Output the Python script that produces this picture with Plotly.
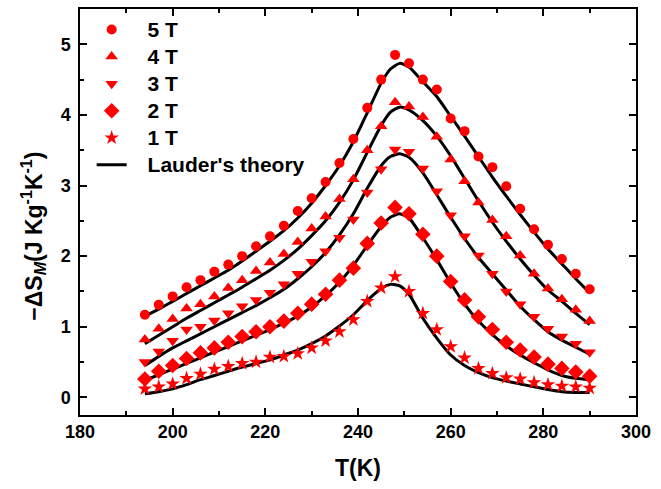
import plotly.graph_objects as go

# ---------------- data ----------------
T_data = [194, 197, 200, 203, 206, 209, 212, 215, 218, 221, 224, 227, 230, 233, 236, 239, 242,
          245, 248, 251, 254, 257, 260, 263, 266, 269, 272, 275, 278, 281, 284, 287, 290]

ds_5T = [1.17, 1.31, 1.43, 1.56, 1.66, 1.78, 1.88, 2.00, 2.14, 2.28, 2.43, 2.64, 2.82, 3.05, 3.32, 3.66, 4.10,
         4.50, 4.85, 4.73, 4.50, 4.36, 3.95, 3.77, 3.41, 3.26, 2.99, 2.67, 2.38, 2.16, 1.96, 1.75, 1.53]
ds_4T = [0.82, 0.97, 1.11, 1.26, 1.32, 1.43, 1.55, 1.66, 1.79, 1.91, 2.03, 2.20, 2.39, 2.56, 2.81, 3.09, 3.50,
         3.84, 4.18, 4.12, 3.97, 3.69, 3.37, 3.06, 2.76, 2.51, 2.28, 2.01, 1.75, 1.54, 1.39, 1.24, 1.08]
ds_3T = [0.50, 0.65, 0.80, 0.96, 1.00, 1.09, 1.19, 1.29, 1.38, 1.48, 1.60, 1.75, 1.92, 2.07, 2.26, 2.52, 2.90,
         3.23, 3.51, 3.48, 3.24, 2.92, 2.58, 2.28, 2.01, 1.75, 1.50, 1.32, 1.14, 0.97, 0.86, 0.76, 0.64]
ds_2T = [0.26, 0.37, 0.45, 0.55, 0.63, 0.70, 0.78, 0.86, 0.93, 1.00, 1.08, 1.19, 1.32, 1.46, 1.66, 1.83, 2.18,
         2.47, 2.69, 2.60, 2.31, 2.00, 1.64, 1.38, 1.14, 0.96, 0.78, 0.67, 0.57, 0.47, 0.41, 0.36, 0.30]
ds_1T = [0.12, 0.15, 0.19, 0.27, 0.33, 0.40, 0.44, 0.48, 0.50, 0.57, 0.58, 0.62, 0.70, 0.80, 0.93, 1.10, 1.36,
         1.55, 1.71, 1.50, 1.19, 0.96, 0.72, 0.56, 0.41, 0.34, 0.28, 0.26, 0.21, 0.18, 0.16, 0.15, 0.13]

# Lauder's theory curves
T_fit = [194, 197, 200, 203, 206, 209, 212, 215, 218, 221, 224, 227, 230, 233, 236, 239, 242,
         245, 247, 249, 251, 254, 257, 260, 263, 266, 269, 272, 275, 278, 281, 284, 287, 290]
fit_5T = [1.15, 1.25, 1.36, 1.47, 1.58, 1.69, 1.80, 1.93, 2.07, 2.21, 2.36, 2.54, 2.75, 3.00, 3.28, 3.62, 4.03,
          4.45, 4.65, 4.73, 4.68, 4.47, 4.26, 3.98, 3.70, 3.41, 3.12, 2.85, 2.59, 2.34, 2.10, 1.89, 1.68, 1.48]
fit_4T = [0.76, 0.88, 1.00, 1.12, 1.23, 1.34, 1.45, 1.56, 1.68, 1.80, 1.94, 2.10, 2.29, 2.50, 2.76, 3.08, 3.47,
          3.85, 4.04, 4.11, 4.07, 3.92, 3.70, 3.42, 3.10, 2.78, 2.48, 2.21, 1.96, 1.73, 1.52, 1.36, 1.19, 1.03]
fit_3T = [0.45, 0.58, 0.70, 0.80, 0.90, 1.00, 1.10, 1.20, 1.30, 1.41, 1.53, 1.68, 1.85, 2.05, 2.30, 2.60, 2.96,
          3.28, 3.41, 3.45, 3.40, 3.18, 2.87, 2.55, 2.25, 1.98, 1.75, 1.52, 1.29, 1.10, 0.93, 0.81, 0.71, 0.61]
fit_2T = [0.24, 0.32, 0.40, 0.48, 0.56, 0.64, 0.72, 0.80, 0.88, 0.96, 1.05, 1.15, 1.28, 1.44, 1.63, 1.87, 2.15,
          2.42, 2.55, 2.60, 2.54, 2.26, 1.95, 1.62, 1.32, 1.08, 0.89, 0.73, 0.60, 0.49, 0.39, 0.31, 0.27, 0.25]
fit_1T = [0.05, 0.08, 0.12, 0.18, 0.25, 0.31, 0.37, 0.43, 0.48, 0.53, 0.60, 0.67, 0.76, 0.87, 1.01, 1.17, 1.37,
          1.54, 1.60, 1.58, 1.46, 1.12, 0.84, 0.60, 0.45, 0.35, 0.28, 0.23, 0.19, 0.15, 0.11, 0.08, 0.07, 0.07]

series_names = ["5 T", "4 T", "3 T", "2 T", "1 T"]
fit_name = "Lauder's theory"
x_tick_vals = [180, 200, 220, 240, 260, 280, 300]
y_tick_vals = [0, 1, 2, 3, 4, 5]

symbols = ["circle", "triangle-up", "triangle-down", "diamond", "star"]
sizes = [10, 11, 11, 12, 11]
data_series = [ds_5T, ds_4T, ds_3T, ds_2T, ds_1T]
fits = [fit_5T, fit_4T, fit_3T, fit_2T, fit_1T]

RED = "#FF0000"
font_family = "Liberation Sans, Arial, sans-serif"


def legend_label(txt):
    return '<span style="font-size:21px">\u00a0\u00a0\u2009' + txt + '</span>'


fig = go.Figure()

for i, fy in enumerate(fits):
    fig.add_trace(go.Scatter(
        x=T_fit, y=fy, mode="lines", line=dict(color="black", width=3, shape="spline", smoothing=0.6),
        name=legend_label(fit_name), showlegend=(i == 0), legendgroup="fit", legendrank=10,
    ))

for k, name in enumerate(series_names):
    fig.add_trace(go.Scatter(
        x=T_data, y=data_series[k], mode="markers", name=legend_label(name),
        marker=dict(symbol=symbols[k], size=sizes[k], color=RED, line=dict(width=0)),
        legendgroup=name, legendrank=k + 1,
    ))

axis_common = dict(
    showline=True, linecolor="black", linewidth=1.5, mirror="allticks",
    ticks="inside", ticklen=7, tickwidth=1.5, tickcolor="black",
    showgrid=False, zeroline=False,
    tickfont=dict(family=font_family, size=18, color="black", weight="bold"),
)

fig.update_xaxes(
    range=[180, 300], tickvals=x_tick_vals,
    minor=dict(ticks="inside", ticklen=4, tickwidth=1.5, tickcolor="black", dtick=10, tick0=180),
    title=dict(text="T(K)", font=dict(family=font_family, size=23, color="black", weight="bold"), standoff=19),
    **axis_common,
)
fig.update_yaxes(
    range=[-0.25, 5.5], tickvals=y_tick_vals, ticklabelstandoff=4,
    minor=dict(ticks="inside", ticklen=4, tickwidth=1.5, tickcolor="black", dtick=0.5, tick0=0),
    **axis_common,
)

fig.add_annotation(
    text="\u2212\u0394S<sub><i>M</i></sub>(J Kg<sup>-1</sup>K<sup>-1</sup>)",
    xref="paper", yref="paper", x=-0.084, y=0.44, xanchor="center", yanchor="middle",
    textangle=-90, showarrow=False,
    font=dict(family=font_family, size=23, color="black", weight="bold"),
)

fig.update_layout(
    width=661, height=489,
    margin=dict(l=80, r=25, t=7, b=74),
    paper_bgcolor="white", plot_bgcolor="white",
    showlegend=True,
    legend=dict(
        x=0.021, y=0.995, xanchor="left", yanchor="top",
        bgcolor="rgba(0,0,0,0)", borderwidth=0,
        font=dict(family=font_family, size=18.5, color="black", weight="bold"),
        traceorder="normal", tracegroupgap=0,
    ),
)

fig.write_html("out.html")
